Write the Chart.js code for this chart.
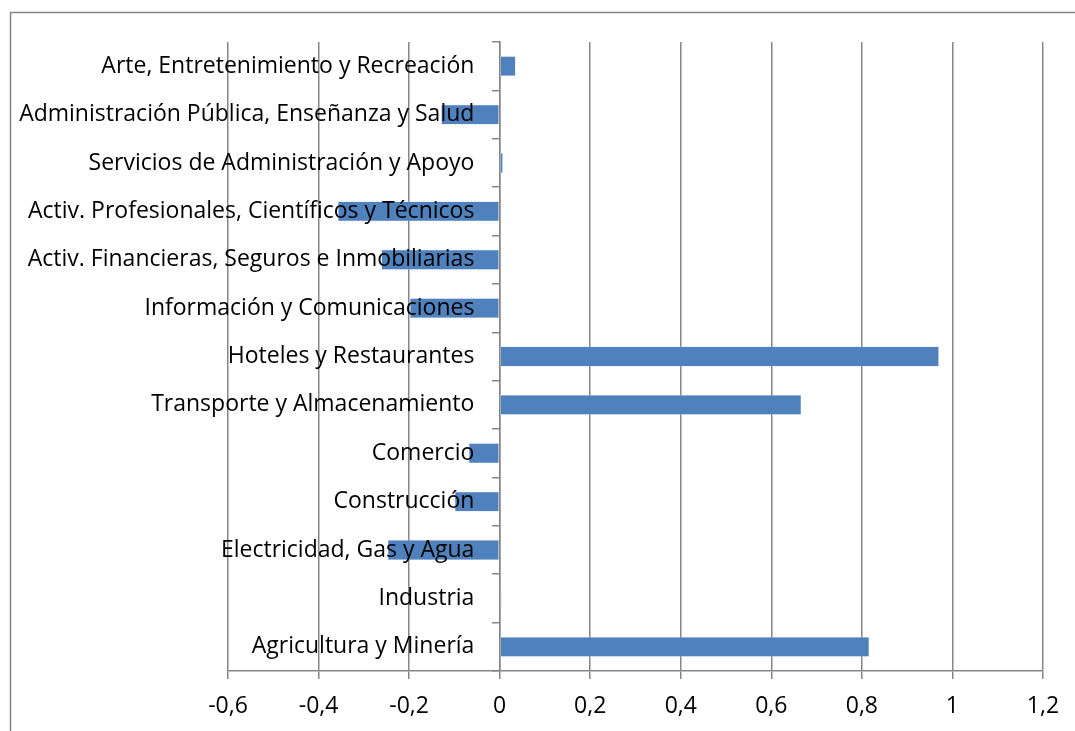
<!DOCTYPE html>
<html>
<head>
<meta charset="utf-8">
<script src="https://cdn.jsdelivr.net/npm/chart.js@4"></script>
<style>
  html, body { margin: 0; padding: 0; background: #fff; }
  #wrap { width: 1075px; height: 731px; position: relative; }
</style>
</head>
<body>
<div id="wrap"><canvas id="chart"></canvas></div>
<script>
const categories = [
  'Agricultura y Minería',
  'Industria',
  'Electricidad, Gas y Agua',
  'Construcción',
  'Comercio',
  'Transporte y Almacenamiento',
  'Hoteles y Restaurantes',
  'Información y Comunicaciones',
  'Activ. Financieras, Seguros e Inmobiliarias',
  'Activ. Profesionales, Científicos y Técnicos',
  'Servicios de Administración y Apoyo',
  'Administración Pública, Enseñanza y Salud',
  'Arte, Entretenimiento y Recreación'
];
const values = [0.816, 0.004, -0.247, -0.099, -0.068, 0.666, 0.970, -0.198, -0.261, -0.357, 0.007, -0.129, 0.035];
const xTicks = [-0.6, -0.4, -0.2, 0, 0.2, 0.4, 0.6, 0.8, 1, 1.2];

const FONT = '"Open Sans", "Noto Sans", sans-serif';

// outer frame of the chart object (top and left edges only are visible)
const framePlugin = {
  id: 'frame',
  beforeDraw(chart) {
    const ctx = chart.ctx;
    ctx.save();
    ctx.strokeStyle = '#868686';
    ctx.lineWidth = 1.5;
    ctx.beginPath();
    ctx.moveTo(10.5, 731);
    ctx.lineTo(10.5, 12.5);
    ctx.lineTo(1075, 12.5);
    ctx.stroke();
    ctx.restore();
  }
};

const ctx = document.getElementById('chart').getContext('2d');
new Chart(ctx, {
  type: 'bar',
  data: {
    labels: categories,
    datasets: [{
      data: values,
      backgroundColor: '#4F81BD',
      borderColor: '#B9CDE5',
      borderWidth: 0.5,
      borderSkipped: false,
      categoryPercentage: 1,
      barPercentage: 0.41
    }]
  },
  options: {
    indexAxis: 'y',
    responsive: true,
    maintainAspectRatio: false,
    animation: false,
    layout: { padding: { left: 228, right: 32, top: 42, bottom: 0 } },
    plugins: {
      legend: { display: false },
      tooltip: { enabled: false }
    },
    scales: {
      x: {
        min: -0.6,
        max: 1.2,
        afterBuildTicks(axis) {
          axis.ticks = xTicks.map(v => ({ value: v }));
        },
        afterFit(axis) {
          axis.height = 60;
        },
        grid: {
          color: '#868686',
          lineWidth: 1.5,
          tickLength: 8
        },
        border: { color: '#868686', width: 1.5 },
        ticks: {
          color: '#000',
          padding: 14,
          font: { family: FONT, size: 23 },
          callback: (v) => String(Number(v.toFixed(1))).replace('.', ',')
        }
      },
      y: {
        position: { x: 0 },
        reverse: true,
        grid: {
          drawOnChartArea: false,
          offset: true,
          color: '#868686',
          lineWidth: 1.5,
          tickLength: 7
        },
        border: { color: '#868686', width: 1.5 },
        ticks: {
          z: 1,
          color: '#000',
          autoSkip: false,
          font: { family: FONT, size: 23 },
          // labels sit a little left of the zero axis
          callback: (v, i) => categories[i] + '\u2002\u2002\u200A'
        }
      }
    }
  },
  plugins: [framePlugin]
});
</script>
</body>
</html>
